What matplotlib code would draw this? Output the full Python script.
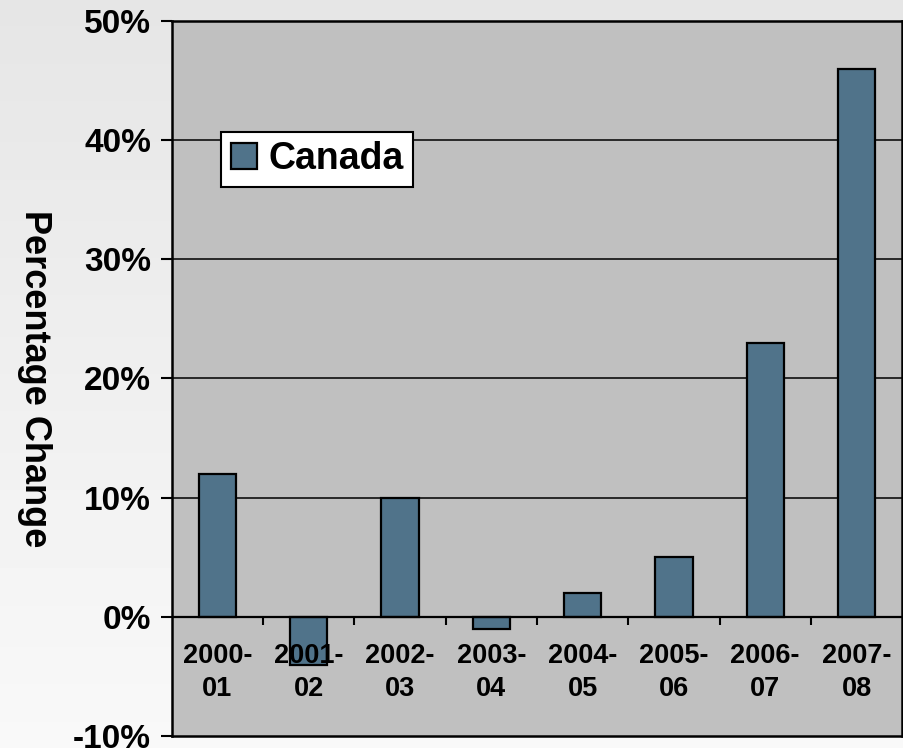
import numpy as np
import matplotlib
matplotlib.use("Agg")
import matplotlib.pyplot as plt

plt.rcParams['font.family'] = ['Liberation Sans', 'DejaVu Sans']
plt.rcParams['font.weight'] = 'bold'

years = ["2000-\n01", "2001-\n02", "2002-\n03", "2003-\n04",
         "2004-\n05", "2005-\n06", "2006-\n07", "2007-\n08"]
canada = [12, -4, 10, -1, 2, 5, 23, 46]
yticks = [-10, 0, 10, 20, 30, 40, 50]

fig = plt.figure(figsize=(9.04, 7.48), dpi=100)

# soft grey backdrop, a bit darker towards the top
bg = fig.add_axes([0, 0, 1, 1], zorder=-1)
grad = np.linspace(0.90, 0.975, 200).reshape(-1, 1)
bg.imshow(grad, aspect='auto', cmap='gray', vmin=0, vmax=1, extent=[0, 1, 0, 1])
bg.axis('off')

ax = fig.add_axes([0.190, 0.016, 0.808, 0.956])
ax.set_facecolor('#c0c0c0')

x = np.arange(len(years))
ax.bar(x, canada, width=0.41, color='#50738a', edgecolor='black',
       linewidth=1.6, label='Canada', zorder=3)

ax.set_xlim(-0.5, len(years) - 0.5)
ax.set_ylim(-10, 50)
ax.set_yticks(yticks)
ax.set_yticklabels([f"{v}%" for v in yticks], fontsize=24, fontweight='bold')
ax.tick_params(axis='y', length=8, width=1.5, pad=7, direction='out')
ax.set_xticks([])

for v in yticks[1:-1]:
    ax.axhline(v, color='black', lw=1.1, zorder=1)
ax.axhline(0, color='black', lw=1.6, zorder=4)

# small ticks on the zero line between categories
ax.vlines(x[:-1] + 0.5, -0.65, 0, color='black', lw=1.5, zorder=4)

for xi, lab in zip(x, years):
    ax.text(xi, -2.2, lab, ha='center', va='top', fontsize=19.5,
            fontweight='bold', linespacing=1.35, zorder=5)

for s in ax.spines.values():
    s.set_linewidth(1.8)

ax.set_ylabel('Percentage Change', rotation=-90, fontsize=26,
              fontweight='bold')
ax.yaxis.set_label_coords(-0.212, 0.5)

leg = ax.legend(loc='upper left', bbox_to_anchor=(0.068, 0.845),
                borderaxespad=0, fancybox=False, framealpha=1,
                edgecolor='black', fontsize=27, handlelength=0.7,
                handleheight=0.7, handletextpad=0.3, borderpad=0.25)
leg.get_frame().set_linewidth(1.5)
for t in leg.get_texts():
    t.set_fontweight('bold')

fig.savefig('out.png', dpi=100)
